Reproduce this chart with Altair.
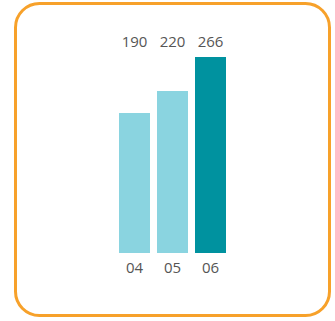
import altair as alt
import pandas as pd

categories = ["04", "05", "06"]
values = [190, 220, 266]
highlight = [False, False, True]

df = pd.DataFrame({"cat": categories, "val": values, "hl": highlight})

xscale = alt.Scale(domain=categories, range=[115.5, 229.5], paddingInner=7/38, paddingOuter=3.5/38)
yscale = alt.Scale(domain=[0, 266], range=[253, 57], zero=True, nice=False)

frame = alt.Chart(pd.DataFrame({"a": [0]})).mark_rect(
    fill="white", stroke="#F7A12A", strokeWidth=3, cornerRadius=24
).encode(x=alt.value(15.5), x2=alt.value(329.5), y=alt.value(3.5), y2=alt.value(315.5))

base = alt.Chart(df)

bars = base.mark_bar().encode(
    x=alt.X("cat:N", scale=xscale, axis=None),
    y=alt.Y("val:Q", scale=yscale, axis=None),
    y2=alt.value(253),
    color=alt.Color("hl:N", scale=alt.Scale(domain=[False, True], range=["#8AD4E0", "#00929F"]), legend=None),
)

top_labels = base.mark_text(font="Open Sans", fontSize=15, color="#555555", baseline="middle").encode(
    x=alt.X("cat:N", scale=xscale, axis=None),
    y=alt.value(42),
    text="val:Q",
)

bottom_labels = base.mark_text(font="Open Sans", fontSize=15, color="#555555", baseline="middle").encode(
    x=alt.X("cat:N", scale=xscale, axis=None),
    y=alt.value(268),
    text="cat:N",
)

chart = alt.layer(frame, bars, top_labels, bottom_labels).properties(
    width=335, height=321, padding=0, autosize=alt.AutoSizeParams(type="none")
).configure_view(stroke=None)

chart.save("out.html", embed_options={"renderer": "svg", "actions": False})
